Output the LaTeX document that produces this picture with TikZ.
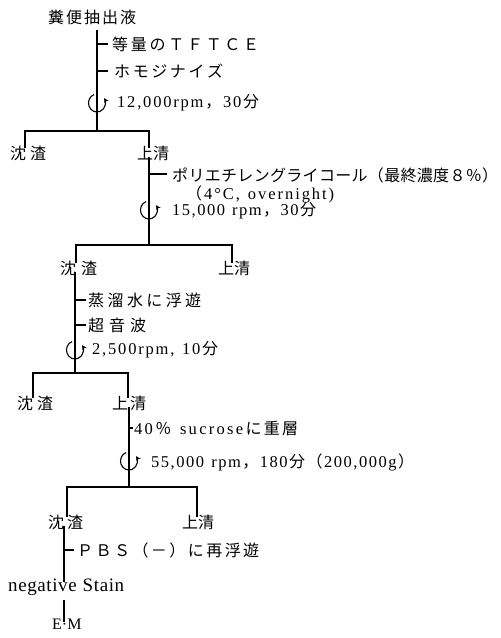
\documentclass[tikz,border=0pt]{standalone}
\usepackage{fontspec}
\setmainfont{Liberation Serif}
\newfontfamily\jpfont{Noto Sans CJK JP}
\newfontfamily\ltfont{Liberation Serif}
\usetikzlibrary{arrows.meta}
\def\ltsize{16.5}
\def\jpsize{16}
\makeatletter
\newif\ifspr@first
\def\spr@end{\spr@end}
\def\JF{\JF@tok}
\def\LF{\LF@tok}
\def\spr@b#1{%
  \ifx#1\spr@end \let\spr@next\relax
  \else\ifx#1\JF \jpfont\fontsize{\jpsize}{16}\selectfont\let\spr@next\spr@b
  \else\ifx#1\LF \ltfont\fontsize{\ltsize}{16}\selectfont\let\spr@next\spr@b
  \else \ifspr@first\spr@firstfalse\else\hfill\fi #1\let\spr@next\spr@b
  \fi\fi\fi\spr@next}
\newcommand\SP[2]{\makebox[#1][l]{\spr@firsttrue\spr@b#2\spr@end}}
\makeatother
\tikzset{
  ln/.style={line width=1.1pt, line cap=butt},
  tx/.style={anchor=west, inner sep=0pt, font=\fontsize{16}{16}\selectfont},
  rotarrow/.style={line width=1.1pt, -{Stealth[length=4.5pt,width=5pt]}},
}
\newcommand\rotsym[1]{\draw[rotarrow] (#1) ++(-110:8.5 and 9) arc[start angle=-110, end angle=-392, x radius=8.5, y radius=9];}
\begin{document}
\begin{tikzpicture}[x=1pt, y=-1pt]
\useasboundingbox[fill=white] (0,0) rectangle (501,638);
% level 0
\node[tx] (t0) at (48,17) {\SP{88pt}{\JF 糞便抽出液}};
\coordinate (j1) at (97,131);
\draw[ln] (t0.south -| j1) ++(0,5) coordinate (s0) -- (j1);
\coordinate (k1) at (97,44);
\node[tx] (a1) at (112,44) {\SP{147pt}{\JF 等量のＴＦＴＣＥ}};
\draw[ln] (k1) -- ([xshift=-4pt]a1.west);
\coordinate (k2) at (97,71);
\node[tx] (a2) at (114,71) {\SP{109pt}{\JF ホモジナイズ}};
\draw[ln] (k2) -- ([xshift=-6pt]a2.west);
\coordinate (r1) at (97,103);
\rotsym{r1}
\node[tx] (a3) at (117,103) {\SP{142pt}{\LF 12,000rpm\JF ，\LF 30\JF 分}};
% branch 1
\node[tx] (p1) at (10,153) {\SP{36pt}{\JF 沈渣}};
\node[tx] (q1) at (137,153) {\SP{32pt}{\JF 上清}};
\draw[ln] ([yshift=-3pt]p1.north -| 25,0) -- (25,131) -- (149,131) -- ([yshift=-3pt]q1.north -| 149,0);
% level 2
\coordinate (j2) at (149,245);
\draw[ln] ([yshift=4pt]q1.south -| j2) -- (j2);
\coordinate (k3) at (150,174);
\node[tx] (b1) at (172,175) {\SP{326pt}{\JF ポリエチレングライコール（最終濃度８％）}};
\draw[ln] (k3) -- ([xshift=-5pt]b1.west |- k3);
\node[tx] (b2) at (186,194) {\SP{148pt}{\JF （\LF 4°C,~overnight)}};
\coordinate (r2) at (149,210);
\rotsym{r2}
\node[tx] (b3) at (172,211) {\SP{144pt}{\LF 15,000~rpm\JF ，\LF 30\JF 分}};
% branch 2
\node[tx] (p2) at (60,268) {\SP{37pt}{\JF 沈渣}};
\node[tx] (q2) at (218,268) {\SP{32pt}{\JF 上清}};
\draw[ln] ([yshift=-3pt]p2.north -| 76,0) -- (76,245) -- (232,245) -- ([yshift=-3pt]q2.north -| 232,0);
% level 3
\coordinate (j3) at (75,373);
\draw[ln] ([yshift=4pt]p2.south -| j3) -- (j3);
\coordinate (k4) at (75,300);
\node[tx] (c1) at (88,300) {\SP{113pt}{\JF 蒸溜水に浮遊}};
\draw[ln] (k4) -- ([xshift=-2pt]c1.west);
\coordinate (k5) at (75,325);
\node[tx] (c2) at (88,325) {\SP{58pt}{\JF 超音波}};
\draw[ln] (k5) -- ([xshift=-2pt]c2.west);
\coordinate (r3) at (75,350);
\rotsym{r3}
\node[tx] (c3) at (92,350) {\SP{126pt}{\LF 2,500rpm,~10\JF 分}};
% branch 3
\node[tx] (p3) at (17,403) {\SP{36pt}{\JF 沈渣}};
\node[tx] (q3) at (112,403) {\SP{34pt}{\JF 上清}};
\draw[ln] ([yshift=-3pt]p3.north -| 33,0) -- (33,373) -- (128,373) -- ([yshift=-3pt]q3.north -| 128,0);
% level 4
\coordinate (j4) at (129,487);
\draw[ln] ([yshift=4pt]q3.south -| j4) -- (j4);
\coordinate (k6) at (129,428);
\node[tx] (d1) at (134,428) {\SP{164pt}{\LF 40\JF ％\LF ~sucrose\JF に重層}};
\draw[ln] (k6) -- ([xshift=-1pt]d1.west);
\coordinate (r4) at (129,461);
\rotsym{r4}
\node[tx] (d2) at (151,462) {\SP{263pt}{\LF 55,000~rpm\JF ，\LF 180\JF 分（\LF 200,000g\JF ）}};
% branch 4
\node[tx] (p4) at (48,522) {\SP{35pt}{\JF 沈渣}};
\node[tx] (q4) at (182,522) {\SP{32pt}{\JF 上清}};
\draw[ln] ([yshift=-3pt]p4.north -| 67,0) -- (67,487) -- (197,487) -- ([yshift=-3pt]q4.north -| 197,0);
% level 5
\node[tx] (n1) at (8,587) {\def\ltsize{19}\SP{116pt}{\LF negative~Stain}};
\draw[ln] ([yshift=4pt]p4.south -| 64,0) -- ([yshift=-4pt]n1.north -| 64,0);
\coordinate (k7) at (64,550);
\node[tx] (e1) at (77,550) {\SP{182pt}{\JF ＰＢＳ（－）に再浮遊}};
\draw[ln] (k7) -- ([xshift=-3pt]e1.west);
\node[tx] (m1) at (52,624) {\def\ltsize{16}\SP{29pt}{\LF E·M}};
\draw[ln] ([yshift=-4pt]n1.south -| 64,0) -- ([yshift=-3pt]m1.north -| 64,0);
\end{tikzpicture}
\end{document}
